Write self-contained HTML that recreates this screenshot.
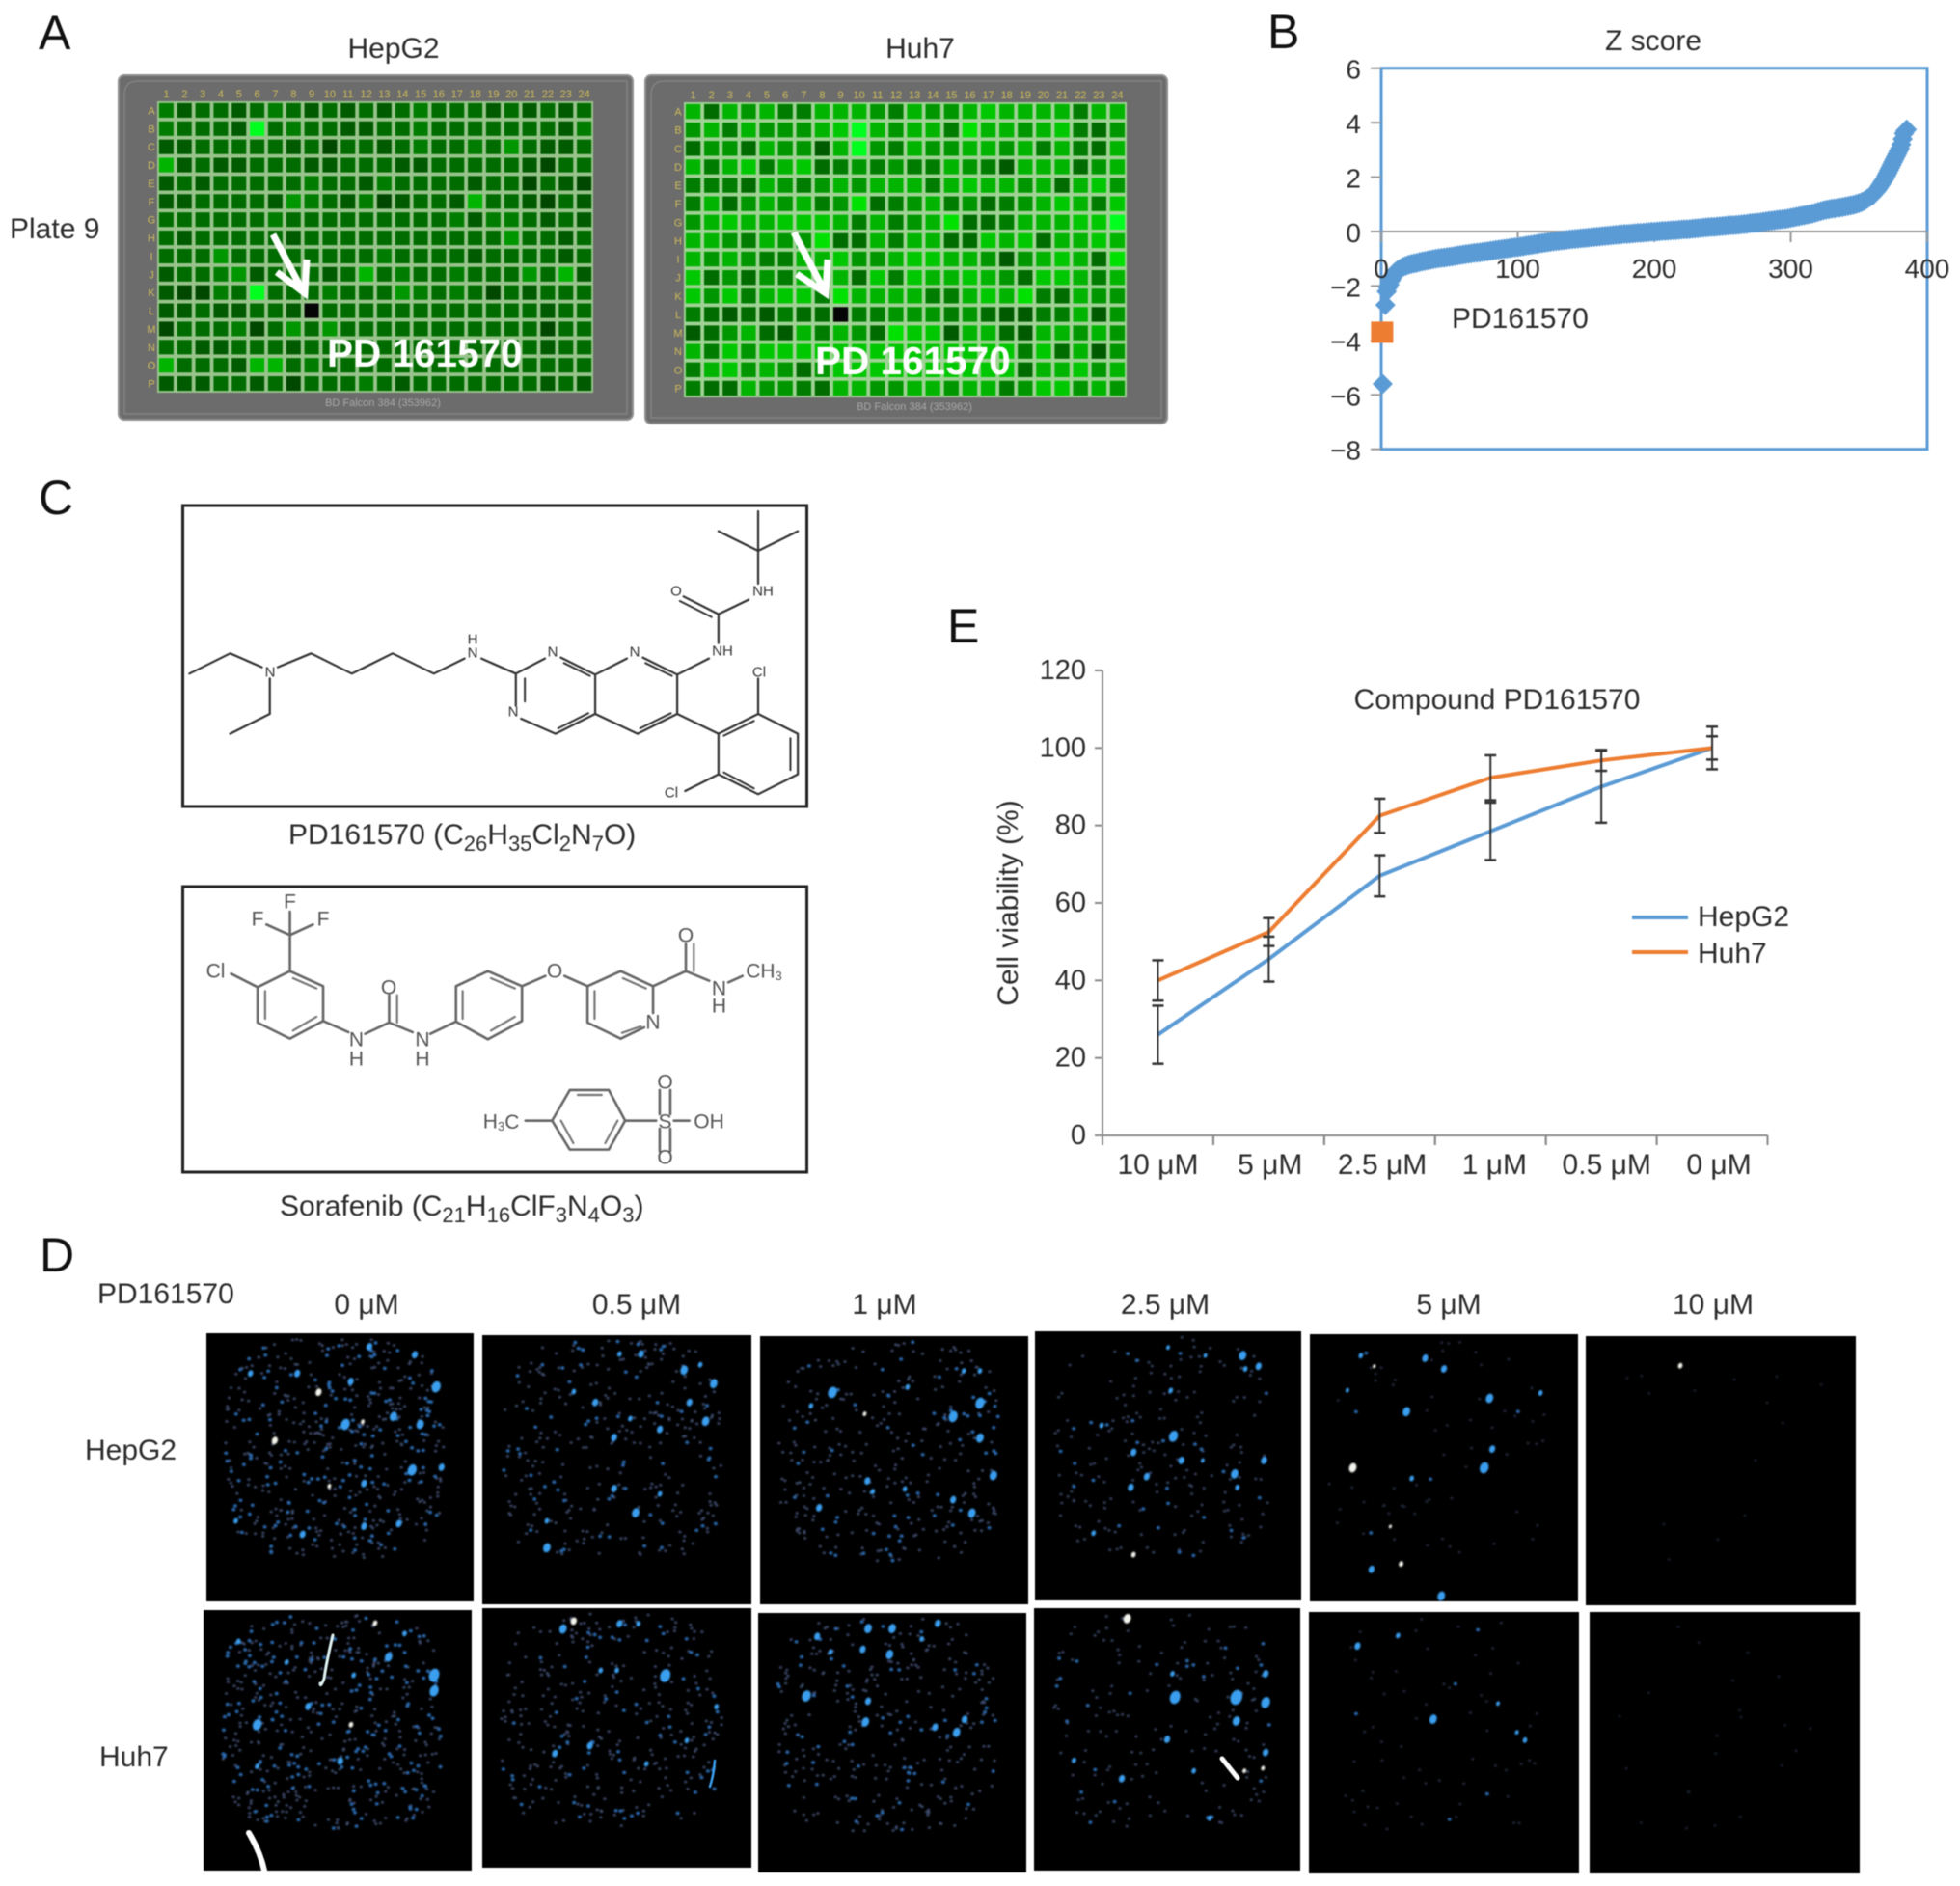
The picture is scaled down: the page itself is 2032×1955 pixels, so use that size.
<!DOCTYPE html>
<html lang="en">
<head>
<meta charset="utf-8">
<title>PD161570 screening figure</title>
<style>
html,body{margin:0;padding:0;background:#fff;width:2032px;height:1955px;overflow:hidden}
svg{display:block;font-family:"Liberation Sans",Arial,sans-serif;filter:blur(0.5px)}
.t{fill:#2c2c2c;font-size:30px}
.letter{fill:#111;font-size:50px}
.atom1{fill:#333;font-size:15px;text-anchor:middle;dominant-baseline:central}
.atom2{fill:#555;font-size:21px;text-anchor:middle;dominant-baseline:central}
.bond{fill:none;stroke-linecap:round;stroke-linejoin:round}
</style>
</head>
<body>
<svg id="fig" xmlns="http://www.w3.org/2000/svg" width="2032" height="1955" viewBox="0 0 2032 1955">
  <defs>
    <filter id="soft" x="-5%" y="-5%" width="110%" height="110%"><feGaussianBlur stdDeviation="0.9"/></filter>
  </defs>
  <rect width="2032" height="1955" fill="#fff"/>

  <!-- Panel letters -->
  <text class="letter" x="40" y="51">A</text>
  <text class="letter" x="1314" y="50">B</text>
  <text class="letter" x="40" y="533">C</text>
  <text class="letter" x="41" y="1318">D</text>
  <text class="letter" x="982" y="666">E</text>

  <!-- Panel A -->
  <text class="t" x="10" y="247">Plate 9</text>
  <text class="t" x="408" y="60" text-anchor="middle">HepG2</text>
  <text class="t" x="954" y="60" text-anchor="middle">Huh7</text>
  <g id="plates"></g>

  <!-- Panel B -->
  <g id="zchart">
    <text class="t" x="1714" y="52" text-anchor="middle">Z score</text>
  </g>

  <!-- Panel C -->
  <rect x="189.5" y="524" width="647" height="312" fill="none" stroke="#222" stroke-width="3"/>
  <g>
    <g transform="translate(0,490) scale(0.5485,0.3333)">
      <path class="bond" vector-effect="non-scaling-stroke" stroke="#333" stroke-width="2.2" d="M358 625L435 562L495 605M525 605L588 562L665 625L742 562L820 625L878 578M910 578L975 625L1030 578M1060 575L1125 628L1185 578M1215 575L1280 628L1340 578M1358 530L1358 440L1292 385M1358 440L1415 395M1433 345L1433 120M1433 243L1358 182M1433 243L1508 182M975 625L975 725M985 765L1050 812L1125 750L1125 628M1125 750L1205 812L1280 750L1280 628M1280 750L1358 812L1433 750L1508 812L1508 938L1433 1000L1358 938L1358 812M1433 750L1433 640M1358 938L1295 990M510 640L510 750L435 812"/>
      <path class="bond" vector-effect="non-scaling-stroke" stroke="#333" stroke-width="2" d="M1066 592L1115 632M1220 592L1270 632M992 640L992 712M1055 795L1112 748M1210 795L1268 748M1368 818L1425 772M1494 826L1494 925M1368 932L1425 982M1345 449L1285 399"/>
    </g>
    <text class="atom1" x="280" y="697">N</text>
    <text class="atom1" x="490" y="663">H</text>
    <text class="atom1" x="490" y="677">N</text>
    <text class="atom1" x="573" y="676">N</text>
    <text class="atom1" x="658" y="676">N</text>
    <text class="atom1" x="749" y="675">NH</text>
    <text class="atom1" x="701" y="613">O</text>
    <text class="atom1" x="791" y="613">NH</text>
    <text class="atom1" x="532" y="738">N</text>
    <text class="atom1" x="787" y="697">Cl</text>
    <text class="atom1" x="696" y="822">Cl</text>
  </g>
  <text class="t" x="299" y="875">PD161570 (C<tspan dy="7" font-size="22">26</tspan><tspan dy="-7">H</tspan><tspan dy="7" font-size="22">35</tspan><tspan dy="-7">Cl</tspan><tspan dy="7" font-size="22">2</tspan><tspan dy="-7">N</tspan><tspan dy="7" font-size="22">7</tspan><tspan dy="-7">O)</tspan></text>

  <rect x="189.5" y="919" width="647" height="296" fill="none" stroke="#222" stroke-width="3"/>
  <g>
    <g transform="translate(150,890) scale(0.4591,0.3333)">
      <path class="bond" vector-effect="non-scaling-stroke" stroke="#666" stroke-width="2.6" d="M328 350L403 397L403 505L328 560L255 510L255 400L328 350M328 350L328 238M328 238L275 205M328 238L380 205M328 238L328 165M255 400L195 358M403 505L460 540M498 545L552 510L605 540M552 510L552 425M645 545L703 507L703 397L775 350L852 397L852 505L775 562L703 507M852 397L905 365M948 365L1000 397L1075 350L1148 397L1148 480M1128 525L1075 560L1000 510L1000 397M1148 397L1222 350L1222 265M1222 350L1275 380M1318 385L1350 365M920 815L960 720L1048 720L1085 815L1048 905L960 905Z M860 815L920 815M1085 815L1155 815M1195 815L1230 815M1163 720L1163 795M1187 720L1187 795M1163 840L1163 910M1187 840L1187 910"/>
      <path class="bond" vector-effect="non-scaling-stroke" stroke="#777" stroke-width="2.2" d="M335 372L388 404M388 492L335 535M272 498L272 412M718 498L718 412M782 372L836 404M836 492L782 535M1016 498L1016 412M1080 372L1132 404M1120 522L1078 542M570 510L570 425M1240 350L1240 265M978 735L1032 735M1068 815L1040 885M940 815L968 885"/>
    </g>
    <text class="atom2" x="300.6" y="935">F</text>
    <text class="atom2" x="267" y="953">F</text>
    <text class="atom2" x="335" y="953">F</text>
    <text class="atom2" x="223.5" y="1007">Cl</text>
    <text class="atom2" x="369.5" y="1078">N</text>
    <text class="atom2" x="369.5" y="1098">H</text>
    <text class="atom2" x="403" y="1024">O</text>
    <text class="atom2" x="438" y="1078">N</text>
    <text class="atom2" x="438" y="1098">H</text>
    <text class="atom2" x="575" y="1007">O</text>
    <text class="atom2" x="677" y="1060">N</text>
    <text class="atom2" x="711" y="970">O</text>
    <text class="atom2" x="745.5" y="1025">N</text>
    <text class="atom2" x="745.5" y="1043">H</text>
    <text class="atom2" x="792" y="1007">CH<tspan dy="4" font-size="13">3</tspan></text>
    <text class="atom2" x="519.6" y="1163">H<tspan dy="4" font-size="13">3</tspan><tspan dy="-4">C</tspan></text>
    <text class="atom2" x="689.5" y="1163">S</text>
    <text class="atom2" x="735" y="1163">OH</text>
    <text class="atom2" x="689.5" y="1122">O</text>
    <text class="atom2" x="689.5" y="1200">O</text>
  </g>
  <text class="t" x="290" y="1260">Sorafenib (C<tspan dy="7" font-size="22">21</tspan><tspan dy="-7">H</tspan><tspan dy="7" font-size="22">16</tspan><tspan dy="-7">ClF</tspan><tspan dy="7" font-size="22">3</tspan><tspan dy="-7">N</tspan><tspan dy="7" font-size="22">4</tspan><tspan dy="-7">O</tspan><tspan dy="7" font-size="22">3</tspan><tspan dy="-7">)</tspan></text>

  <!-- Panel E -->
  <g id="echart">
    <text class="t" x="1552" y="735" text-anchor="middle">Compound PD161570</text>
    <text class="t" transform="translate(1055,936) rotate(-90)" text-anchor="middle">Cell viability (%)</text>
  </g>

  <!-- Panel D -->
  <text class="t" x="101" y="1351">PD161570</text>
  <text class="t" x="88" y="1513">HepG2</text>
  <text class="t" x="103" y="1831">Huh7</text>
  <text class="t" x="380" y="1362" text-anchor="middle">0 μM</text>
  <text class="t" x="660" y="1362" text-anchor="middle">0.5 μM</text>
  <text class="t" x="917" y="1362" text-anchor="middle">1 μM</text>
  <text class="t" x="1208" y="1362" text-anchor="middle">2.5 μM</text>
  <text class="t" x="1502" y="1362" text-anchor="middle">5 μM</text>
  <text class="t" x="1776" y="1362" text-anchor="middle">10 μM</text>
  <g id="tiles"></g>
</svg>

<script>
// ---------- Panel A data: well signal level (0 = no signal, 9 = brightest) ----------
var wellColumns = ['1','2','3','4','5','6','7','8','9','10','11','12','13','14','15','16','17','18','19','20','21','22','23','24'];
var wellRows = ['A','B','C','D','E','F','G','H','I','J','K','L','M','N','O','P'];
var hepg2Wells = [
[4,2,3,3,2,3,4,3,2,3,2,3,2,3,4,3,3,3,2,3,2,3,2,3],
[4,3,3,3,2,9,3,4,3,3,2,2,3,3,4,3,3,3,3,3,3,3,2,4],
[2,2,3,3,3,3,3,2,3,1,3,3,2,3,4,3,3,4,3,5,3,2,2,3],
[6,2,3,2,2,3,3,3,2,2,3,3,3,2,2,3,3,3,3,3,2,1,3,3],
[2,3,2,3,3,3,3,3,4,3,3,2,4,3,3,3,3,2,3,3,1,3,2,1],
[2,2,3,3,3,3,2,5,4,3,2,4,1,2,3,3,2,6,3,3,2,1,3,2],
[3,3,3,3,3,3,4,3,3,3,3,3,3,3,3,3,4,2,4,4,3,2,3,2],
[3,2,3,3,3,3,3,2,3,3,3,3,3,3,3,3,3,3,3,5,3,3,2,3],
[3,3,3,5,3,3,3,3,3,3,3,3,4,3,3,3,3,2,3,3,3,3,2,3],
[2,3,3,4,5,2,3,3,3,2,3,6,3,4,3,3,4,3,3,3,5,3,6,2],
[2,1,1,4,3,9,3,3,3,4,3,3,3,5,4,3,4,3,1,3,2,3,3,3],
[2,2,3,2,2,3,3,2,0,3,3,3,3,3,3,3,3,3,3,3,3,2,3,3],
[1,3,3,3,4,1,3,5,3,5,3,3,3,3,3,3,3,3,3,3,3,1,3,3],
[3,3,2,2,3,3,3,2,3,3,3,3,3,3,3,3,3,3,3,3,3,2,3,3],
[6,3,3,3,2,6,6,3,4,3,3,3,3,3,3,3,4,3,3,3,3,3,3,3],
[2,2,2,3,3,2,3,1,3,3,3,4,3,2,3,3,3,3,3,3,3,2,3,2]
];
var huh7Wells = [
[6,3,6,5,6,4,4,6,6,6,5,4,6,5,5,6,7,6,6,6,6,4,6,6],
[5,6,4,6,5,5,5,6,7,9,6,5,6,6,4,8,6,6,5,6,7,4,3,5],
[3,5,5,3,6,5,5,2,6,9,5,4,6,5,5,6,6,5,6,4,6,4,3,6],
[6,4,6,7,4,6,7,3,4,5,4,5,4,4,6,5,4,2,6,6,6,3,5,6],
[4,4,4,3,6,5,4,5,6,5,6,6,6,4,6,7,6,6,5,6,3,6,7,5],
[4,6,3,5,6,5,6,4,5,8,3,4,5,6,4,5,3,4,5,6,7,6,4,7],
[5,6,7,6,6,7,7,7,6,4,6,4,5,6,8,3,3,4,6,6,6,7,7,9],
[6,6,5,4,6,5,5,8,3,3,6,4,6,6,3,3,7,6,7,3,6,6,7,6],
[6,5,6,5,4,4,6,6,7,5,5,6,7,7,6,6,5,2,5,6,7,6,3,8],
[7,3,5,3,5,4,6,6,6,3,7,4,7,6,6,7,6,5,3,7,7,6,4,6],
[7,5,7,4,6,7,7,4,8,6,6,6,6,4,4,6,7,6,8,4,3,6,5,5],
[4,3,2,3,2,4,3,3,0,4,4,5,5,5,4,5,3,2,2,4,4,6,2,5],
[2,3,5,6,3,2,6,4,6,5,3,8,7,7,2,6,6,3,2,6,6,5,6,5],
[6,4,7,5,7,7,7,7,7,7,7,7,7,7,7,7,7,7,4,7,3,6,2,5],
[4,6,7,5,6,5,3,5,7,7,7,7,7,7,7,7,7,7,3,6,6,7,5,6],
[4,3,3,6,5,5,4,3,6,6,5,5,6,6,5,6,6,4,5,7,7,5,6,5]
];

// ---------- Panel B data ----------
var zRanks = [1,3,4,5,6,7,8,9,10,12,14,16,18,20,22,24,26,28,30,32,34,36,38,40,42,44,46,48,50,52,54,56,58,60,62,64,66,68,70,72,74,76,78,80,82,84,86,88,90,92,94,96,98,100,102,104,106,108,110,112,114,116,118,120,122,124,126,128,130,132,134,136,138,140,142,144,146,148,150,152,154,156,158,160,162,164,166,168,170,172,174,176,178,180,182,184,186,188,190,192,194,196,198,200,202,204,206,208,210,212,214,216,218,220,222,224,226,228,230,232,234,236,238,240,242,244,246,248,250,252,254,256,258,260,262,264,266,268,270,272,274,276,278,280,282,284,286,288,290,292,294,296,298,300,302,304,306,308,310,312,314,316,318,320,322,324,326,328,330,332,334,336,338,340,342,344,346,348,350,352,354,356,358,360,361,362,363,364,365,366,367,368,369,370,371,372,373,374,375,376,377,378,379,380,381,382,383,384,385];
var zScores = [-5.6,-2.7,-2.2,-2.05,-1.95,-1.8,-1.7,-1.6,-1.5,-1.42,-1.36,-1.3,-1.26,-1.22,-1.19,-1.17,-1.15,-1.12,-1.1,-1.08,-1.06,-1.04,-1.02,-1,-0.985,-0.97,-0.96,-0.945,-0.93,-0.915,-0.9,-0.88,-0.865,-0.85,-0.835,-0.82,-0.805,-0.79,-0.78,-0.77,-0.755,-0.74,-0.725,-0.71,-0.695,-0.68,-0.665,-0.65,-0.64,-0.625,-0.61,-0.595,-0.58,-0.57,-0.555,-0.54,-0.52,-0.505,-0.49,-0.475,-0.46,-0.44,-0.425,-0.41,-0.395,-0.38,-0.365,-0.35,-0.34,-0.33,-0.32,-0.305,-0.29,-0.28,-0.27,-0.26,-0.25,-0.24,-0.23,-0.22,-0.21,-0.2,-0.19,-0.18,-0.17,-0.16,-0.15,-0.14,-0.13,-0.12,-0.11,-0.1,-0.09,-0.09,-0.08,-0.07,-0.06,-0.05,-0.05,-0.04,-0.03,-0.02,-0.01,-0.01,0,0.01,0.02,0.02,0.03,0.04,0.05,0.05,0.06,0.07,0.08,0.08,0.09,0.1,0.11,0.12,0.13,0.14,0.15,0.16,0.17,0.17,0.18,0.19,0.2,0.21,0.22,0.23,0.23,0.24,0.25,0.26,0.27,0.28,0.3,0.31,0.32,0.33,0.34,0.36,0.37,0.39,0.4,0.41,0.43,0.44,0.45,0.46,0.48,0.5,0.52,0.54,0.56,0.58,0.6,0.62,0.64,0.66,0.69,0.72,0.75,0.78,0.8,0.82,0.84,0.85,0.87,0.88,0.9,0.92,0.94,0.96,0.98,1.01,1.04,1.08,1.13,1.2,1.27,1.33,1.4,1.45,1.5,1.57,1.65,1.72,1.8,1.87,1.95,2.05,2.15,2.25,2.35,2.45,2.55,2.65,2.75,2.85,2.95,3.05,3.2,3.4,3.6,3.7,3.75,3.75];
var hitRank = [1];
var hitScore = [-3.7];
var zYTicks = [6,4,2,0,-2,-4,-6,-8];
var zXTicks = [0,100,200,300,400];

// ---------- Panel E data ----------
var doseLabels = ['10 μM','5 μM','2.5 μM','1 μM','0.5 μM','0 μM'];
var viabilityYTicks = [0,20,40,60,80,100,120];
var hepg2Viability = [26,45.5,67,78.5,90,100];
var hepg2Error = [7.5,5.8,5.3,7.4,9.3,3];
var huh7Viability = [40,52.5,82.5,92.3,96.8,100];
var huh7Error = [5.2,3.6,4.4,5.8,2.7,5.5];

// ---------- Panel D: bright objects seen in each micrograph, [x fraction, y fraction, radius, kind] (kind 1 = white) ----------
var micrographObjects = [
 [[.165,.15,3.5,0],[.34,.15,4,0],[.42,.22,4,1],[.54,.18,4,0],[.61,.05,4,0],[.78,.08,4,0],[.86,.2,6,0],[.52,.34,6,0],[.7,.31,5,0],[.8,.34,5,0],[.585,.33,2.5,1],[.256,.4,4,1],[.77,.51,6,0],[.88,.5,4,0],[.59,.56,4,0],[.46,.57,2.5,1],[.72,.71,4,0],[.59,.72,4,0],[.36,.75,4,0],[.11,.7,3,0]],
 [[.51,.07,3,0],[.59,.07,4,0],[.75,.13,5,0],[.86,.18,5,0],[.77,.25,4,0],[.83,.32,5,0],[.42,.25,4,0],[.55,.31,3,0],[.66,.35,4,0],[.49,.38,4,0],[.49,.57,4,0],[.66,.59,3,0],[.57,.66,5,0],[.24,.79,5,0],[.24,.69,3,0],[.34,.21,3,0],[.81,.11,3,0]],
 [[.27,.21,6,0],[.82,.13,3,0],[.82,.25,6,0],[.72,.3,6,0],[.82,.38,5,0],[.87,.52,5,0],[.4,.54,4,0],[.22,.64,4,0],[.79,.66,5,0],[.42,.58,3,0],[.72,.61,4,0],[.39,.29,2.5,1],[.76,.13,3,0],[.55,.19,3,0],[.19,.26,3,0],[.54,.57,3,0]],
 [[.78,.09,5,0],[.84,.13,4,0],[.79,.14,3,0],[.52,.39,6,0],[.55,.48,4,0],[.37,.45,4,0],[.42,.54,4,0],[.36,.58,4,0],[.75,.53,5,0],[.86,.48,4,0],[.51,.22,3,0],[.25,.35,3,0],[.22,.75,3,0],[.37,.83,3,1],[.76,.58,3,0],[.64,.09,2.5,0],[.5,.06,2.5,0],[.63,.48,2.5,0]],
 [[.19,.08,3,0],[.43,.09,4,0],[.5,.13,4,0],[.67,.24,5,0],[.36,.29,5,0],[.86,.22,3,0],[.68,.43,4,0],[.65,.5,6,0],[.38,.54,3,0],[.16,.5,5,1],[.34,.86,3,1],[.23,.88,4,0],[.49,.98,5,0],[.14,.21,2.5,0],[.24,.12,2,1],[.3,.72,2,1]],
 [[.35,.11,3,1]],
 [[.86,.25,7,0],[.86,.31,6,0],[.69,.18,5,0],[.2,.44,6,0],[.39,.37,4,0],[.51,.58,4,0],[.55,.44,3,1],[.13,.12,3,0],[.2,.6,3,0],[.64,.05,3,1],[.56,.25,3,0],[.31,.2,3,0],[.75,.09,3,0]],
 [[.3,.08,5,0],[.34,.05,4,1],[.51,.06,4,0],[.68,.26,7,0],[.44,.24,3,0],[.5,.24,3,0],[.4,.53,4,0],[.27,.56,4,0],[.87,.38,3,0],[.76,.51,3,0],[.61,.6,3,0],[.58,.06,3,0]],
 [[.18,.32,6,0],[.41,.06,5,0],[.5,.06,5,0],[.22,.09,4,0],[.49,.16,5,0],[.39,.14,4,0],[.41,.34,4,0],[.4,.42,5,0],[.66,.44,4,0],[.74,.46,5,0],[.77,.41,4,0],[.67,.04,4,0],[.61,.1,3,0],[.27,.15,3,0]],
 [[.53,.34,7,0],[.76,.34,8,0],[.87,.36,6,0],[.76,.43,5,0],[.87,.25,4,0],[.87,.55,4,0],[.33,.65,4,0],[.5,.5,4,0],[.6,.62,3,0],[.15,.58,3,0],[.35,.04,5,1],[.66,.8,3,0],[.52,.25,3,0],[.79,.62,2.5,1],[.86,.61,2.5,1]],
 [[.18,.13,4,0],[.33,.09,3,0],[.46,.41,5,0],[.7,.35,2.5,0],[.8,.49,3,0],[.77,.46,2.5,0]],
 []
];
// Speck counts per micrograph (mid blue, faint), and brightness of the faint layer
var speckCounts = [[150,360],[60,260],[60,260],[28,180],[5,60],[0,14],[180,340],[65,280],[60,270],[25,150],[5,60],[0,22]];
var faintOpacity = [1,1,1,.9,.55,.4,1,1,1,.9,.55,.4];

var SVGNS = 'http://www.w3.org/2000/svg';
function mk(tag, parent){var e=document.createElementNS(SVGNS,tag);parent.appendChild(e);return e;}

// ---------- Panel A ----------
var greenLevels = [0,72,90,108,125,150,180,200,225,255];
function wellFill(v){return v===0?'#050505':'rgb(0,'+greenLevels[v]+','+(v===9?30:0)+')';}
function drawPlate(cfg, wells){
  var root=document.getElementById('plates');
  var g=mk('g',root);
  
  
  var body=mk('rect',g);
  
  
  body.setAttribute('x',cfg.x);body.setAttribute('y',cfg.y);body.setAttribute('width',cfg.w);body.setAttribute('height',cfg.h);
  body.setAttribute('rx',6);body.setAttribute('fill','#6c6c6c');body.setAttribute('stroke','#8f8f8f');body.setAttribute('stroke-width',2);
  var rim=mk('path',g);
  
  
  var a=cfg.x+6,b=cfg.y+6,c=cfg.x+cfg.w-6,d=cfg.y+cfg.h-6;
  rim.setAttribute('d','M'+(a+14)+' '+b+'L'+c+' '+b+'L'+c+' '+d+'L'+a+' '+d+'L'+a+' '+(b+14)+'Q'+a+' '+b+' '+(a+14)+' '+b+'Z');
  rim.setAttribute('fill','none');rim.setAttribute('stroke','#828282');rim.setAttribute('stroke-width',1.5);
  var grid=mk('rect',g);
  
  
  grid.setAttribute('x',cfg.gx);grid.setAttribute('y',cfg.gy);grid.setAttribute('width',cfg.gw);grid.setAttribute('height',cfg.gh);
  grid.setAttribute('fill',cfg.gap);
  var px=cfg.gw/wellColumns.length,py=cfg.gh/wellRows.length;
  wellRows.forEach(function(rowName,r){
    var t=mk('text',g);
    
    
    t.setAttribute('x',cfg.gx-6);t.setAttribute('y',cfg.gy+py*(r+.5)+4);
    t.setAttribute('font-size',11);t.setAttribute('fill','#cdbb58');t.setAttribute('text-anchor','middle');
    t.textContent=rowName;
    wellColumns.forEach(function(colName,c){
      var w=mk('rect',g);
      
      
      w.setAttribute('x',cfg.gx+px*c+1.9);w.setAttribute('y',cfg.gy+py*r+1.9);
      w.setAttribute('width',px-3.8);w.setAttribute('height',py-3.8);
      w.setAttribute('fill',wellFill(wells[r][c]));
    });
  });
  wellColumns.forEach(function(colName,c){
    var t=mk('text',g);
    
    
    t.setAttribute('x',cfg.gx+px*(c+.5));t.setAttribute('y',cfg.gy-4);
    t.setAttribute('font-size',11);t.setAttribute('fill','#cdbb58');t.setAttribute('text-anchor','middle');
    t.textContent=colName;
  });
  var foot=mk('text',g);
  
  
  foot.setAttribute('x',cfg.fx);foot.setAttribute('y',cfg.fy);foot.setAttribute('font-size',11);foot.setAttribute('fill','#a8a8a8');foot.setAttribute('text-anchor','middle');
  foot.textContent='BD Falcon 384 (353962)';
  var arrow=mk('path',g);
  
  
  arrow.setAttribute('d',cfg.arrow);arrow.setAttribute('fill','none');arrow.setAttribute('stroke','#fff');arrow.setAttribute('stroke-width',7);arrow.setAttribute('stroke-linecap','butt');arrow.setAttribute('stroke-linejoin','miter');
  var lab=mk('text',g);
  
  
  lab.setAttribute('x',cfg.lx);lab.setAttribute('y',cfg.ly);lab.setAttribute('font-size',40.5);lab.setAttribute('font-weight','bold');lab.setAttribute('fill','#fff');
  lab.textContent='PD 161570';
}
drawPlate({name:'hepg2-plate',x:123,y:78,w:533,h:357,gx:163,gy:105,gw:452,gh:302,gap:'#98c48c',fx:397,fy:421,lx:339,ly:380,
  arrow:'M283 243L314 302M287 282L316 304L318 269'},hepg2Wells);
drawPlate({name:'huh7-plate',x:669,y:78,w:541,h:361,gx:709,gy:106,gw:459,gh:306,gap:'#9fd294',fx:948,fy:425,lx:845,ly:388,
  arrow:'M823 241L855 302M826 284L856 304L858 269'},huh7Wells);

// ---------- Panel B ----------
function xZ(v){return 1432+v*(1998-1432)/400;}
function yZ(v){return 240-v*(465.7-70.7)/14;}
(function(){
  var root=document.getElementById('zchart');
  var frame=mk('rect',root);
  
  
  frame.setAttribute('x',xZ(0));frame.setAttribute('y',yZ(6));frame.setAttribute('width',xZ(400)-xZ(0));frame.setAttribute('height',yZ(-8)-yZ(6));
  frame.setAttribute('fill','none');frame.setAttribute('stroke','#5b9bd5');frame.setAttribute('stroke-width',3);
  zYTicks.forEach(function(v){
    var l=mk('line',root);
    
    
    l.setAttribute('x1',xZ(0)-11);l.setAttribute('x2',xZ(0));l.setAttribute('y1',yZ(v));l.setAttribute('y2',yZ(v));
    l.setAttribute('stroke','#999');l.setAttribute('stroke-width',2);
    var t=mk('text',root);
    t.setAttribute('class','t');
    
    
    t.setAttribute('x',xZ(0)-21);t.setAttribute('y',yZ(v)+11);t.setAttribute('text-anchor','end');t.style.fontSize='28px';
    t.textContent=v<0?'−'+(-v):String(v);
  });
  var zero=mk('line',root);
  
  
  zero.setAttribute('x1',xZ(0));zero.setAttribute('x2',xZ(400));zero.setAttribute('y1',yZ(0));zero.setAttribute('y2',yZ(0));
  zero.setAttribute('stroke','#999');zero.setAttribute('stroke-width',2);
  zXTicks.forEach(function(v){
    var l=mk('line',root);
    
    
    l.setAttribute('x1',xZ(v));l.setAttribute('x2',xZ(v));l.setAttribute('y1',yZ(0));l.setAttribute('y2',yZ(0)+11);
    l.setAttribute('stroke','#999');l.setAttribute('stroke-width',2);
  });
  zRanks.forEach(function(rank,i){
    var d=mk('path',root);
    
    
    var cx=xZ(rank),cy=yZ(zScores[i]),r=10.5;
    d.setAttribute('d','M'+cx+' '+(cy-r)+'L'+(cx+r)+' '+cy+'L'+cx+' '+(cy+r)+'L'+(cx-r)+' '+cy+'Z');
    d.setAttribute('fill','#5b9bd5');
  });
  zXTicks.forEach(function(v){
    var t=mk('text',root);
    t.setAttribute('class','t');
    
    
    t.setAttribute('x',xZ(v));t.setAttribute('y',288);t.setAttribute('text-anchor','middle');t.style.fontSize='28px';
    t.textContent=String(v);
  });
  hitRank.forEach(function(rank,i){
    var s=mk('rect',root);
    
    
    s.setAttribute('x',xZ(rank)-12);s.setAttribute('y',yZ(hitScore[i])-11);s.setAttribute('width',23);s.setAttribute('height',22);
    s.setAttribute('fill','#ed7d31');
  });
  var lab=mk('text',root);
  lab.setAttribute('class','t');
  
  
  lab.setAttribute('x',1505);lab.setAttribute('y',340);
  lab.textContent='PD161570';
})();

// ---------- Panel E ----------
function xE(i){return 1143+(i+.5)*(1832.5-1143)/doseLabels.length;}
function yE(v){return 1177-v*(1177-695)/120;}
(function(){
  var root=document.getElementById('echart');
  function seg(x1,y1,x2,y2,stroke,w,name){
    var l=mk('line',root);
    
    
    l.setAttribute('x1',x1);l.setAttribute('y1',y1);l.setAttribute('x2',x2);l.setAttribute('y2',y2);
    l.setAttribute('stroke',stroke);l.setAttribute('stroke-width',w);
  }
  seg(xE(-.5),yE(0),xE(-.5),yE(120),'#8a8a8a',2,'y-axis');
  seg(xE(-.5),yE(0),xE(5.5),yE(0),'#8a8a8a',2,'x-axis');
  viabilityYTicks.forEach(function(v){
    seg(xE(-.5)-8,yE(v),xE(-.5),yE(v),'#8a8a8a',2,'y-tick');
    var t=mk('text',root);
    t.setAttribute('class','t');
    
    
    t.setAttribute('x',xE(-.5)-17);t.setAttribute('y',yE(v)+9);t.setAttribute('text-anchor','end');t.style.fontSize='29px';
    t.textContent=String(v);
  });
  doseLabels.forEach(function(lbl,i){
    seg(xE(i-.5),yE(0),xE(i-.5),yE(0)+10,'#8a8a8a',2,'x-tick');
    seg(xE(i+.5),yE(0),xE(i+.5),yE(0)+10,'#8a8a8a',2,'x-tick');
    var t=mk('text',root);
    t.setAttribute('class','t');
    
    
    t.setAttribute('x',xE(i)+(i*1.4));t.setAttribute('y',1217);t.setAttribute('text-anchor','middle');t.style.fontSize='30px';
    t.textContent=lbl;
  });
  function series(vals,color,name){
    var p=mk('polyline',root);
    
    
    p.setAttribute('points',vals.map(function(v,i){return xE(i)+','+yE(v);}).join(' '));
    p.setAttribute('fill','none');p.setAttribute('stroke',color);p.setAttribute('stroke-width',4);p.setAttribute('stroke-linejoin','round');
  }
  function bars(vals,errs,name){
    vals.forEach(function(v,i){
      var x=xE(i);
      seg(x,yE(v+errs[i]),x,yE(v-errs[i]),'#333',2,name+'-error-bar');
      seg(x-6,yE(v+errs[i]),x+6,yE(v+errs[i]),'#333',2.5,name+'-error-cap');
      seg(x-6,yE(v-errs[i]),x+6,yE(v-errs[i]),'#333',2.5,name+'-error-cap');
    });
  }
  series(hepg2Viability,'#5b9bd5','hepg2');
  series(huh7Viability,'#ed7d31','huh7');
  bars(hepg2Viability,hepg2Error,'hepg2');
  bars(huh7Viability,huh7Error,'huh7');
  seg(1692,951,1750,951,'#5b9bd5',4,'legend-swatch-hepg2');
  seg(1692,987,1750,987,'#ed7d31',4,'legend-swatch-huh7');
  var a=mk('text',root);
  a.setAttribute('class','t');
  
  
  a.setAttribute('x',1760);a.setAttribute('y',960);a.textContent='HepG2';
  var b=mk('text',root);
  b.setAttribute('class','t');
  
  
  b.setAttribute('x',1760);b.setAttribute('y',998);b.textContent='Huh7';
})();

// ---------- Panel D (micrograph tiles; the fine specks are image texture from a fixed-seed generator, not chart data) ----------
var tileBoxes = [
 {n:'hepg2-0',x:214,y:1382,r:491,b:1660},{n:'hepg2-0.5',x:500,y:1384,r:779,b:1663},{n:'hepg2-1',x:788,y:1385,r:1066,b:1663},
 {n:'hepg2-2.5',x:1073,y:1380,r:1349,b:1659},{n:'hepg2-5',x:1358,y:1383,r:1636,b:1660},{n:'hepg2-10',x:1644,y:1385,r:1924,b:1664},
 {n:'huh7-0',x:211,y:1669,r:489,b:1939},{n:'huh7-0.5',x:500,y:1667,r:779,b:1936},{n:'huh7-1',x:786,y:1672,r:1064,b:1941},
 {n:'huh7-2.5',x:1072,y:1667,r:1348,b:1939},{n:'huh7-5',x:1357,y:1671,r:1637,b:1942},{n:'huh7-10',x:1648,y:1671,r:1928,b:1942}
];
(function(){
  var root=document.getElementById('tiles');
  var seed=12345;
  function rnd(){seed=(seed*1103515245+12345)%2147483648;return seed/2147483648;}
  function specks(count,box){
    var w=box.r-box.x,h=box.b-box.y,d='',n=0,guard=0;
    while(n<count&&guard<count*20){
      guard++;
      var u=rnd()*2-1,v=rnd()*2-1;
      if(Math.pow(Math.abs(u),4)+Math.pow(Math.abs(v),4)>1)continue;
      var x=box.x+w*(.48+u*.41),y=box.y+h*(.43+v*.41);
      d+='M'+x.toFixed(1)+' '+y.toFixed(1)+'h0.5';
      n++;
    }
    return d;
  }
  tileBoxes.forEach(function(box,i){
    var g=mk('g',root);
    
    
    var bg=mk('rect',g);
    
    
    bg.setAttribute('x',box.x);bg.setAttribute('y',box.y);bg.setAttribute('width',box.r-box.x);bg.setAttribute('height',box.b-box.y);
    bg.setAttribute('fill','#000');
    var cells=mk('g',g);
    
    
    cells.setAttribute('filter','url(#soft)');
    var faint=mk('path',cells);
    
    
    faint.setAttribute('d',specks(speckCounts[i][1],box));
    faint.setAttribute('stroke','#3f4d70');faint.setAttribute('stroke-width',2.6);faint.setAttribute('stroke-linecap','round');faint.setAttribute('fill','none');
    faint.setAttribute('stroke-opacity',faintOpacity[i]);
    if(speckCounts[i][0]>0){
      var mid=mk('path',cells);
      
      
      mid.setAttribute('d',specks(speckCounts[i][0],box));
      mid.setAttribute('stroke','#2a6ab0');mid.setAttribute('stroke-width',3.4);mid.setAttribute('stroke-linecap','round');mid.setAttribute('fill','none');
    }
    micrographObjects[i].forEach(function(o){
      var c=mk('ellipse',cells);
      
      
      var cx=box.x+(box.r-box.x)*o[0],cy=box.y+(box.b-box.y)*o[1];
      c.setAttribute('cx',cx);c.setAttribute('cy',cy);
      c.setAttribute('rx',o[2]*.75);c.setAttribute('ry',o[2]);
      c.setAttribute('transform','rotate(20 '+cx+' '+cy+')');
      c.setAttribute('fill',o[3]?'#f4f6ee':'#3b9ff0');
    });
  });
  function streak(d,w,color){
    var s=mk('path',root);
    
    
    s.setAttribute('d',d);s.setAttribute('fill','none');s.setAttribute('stroke',color);s.setAttribute('stroke-width',w);s.setAttribute('stroke-linecap','round');
  }
  streak('M345 1695Q338 1725 336 1740Q332 1750 332 1745',3,'#dff2f2');
  streak('M258 1900Q270 1920 274 1939',6,'#ffffff');
  streak('M741 1825Q740 1840 736 1852',2.5,'#3b9ff0');
  streak('M1267 1823L1283 1843',5,'#ffffff');
})();
</script>
</body>
</html>
